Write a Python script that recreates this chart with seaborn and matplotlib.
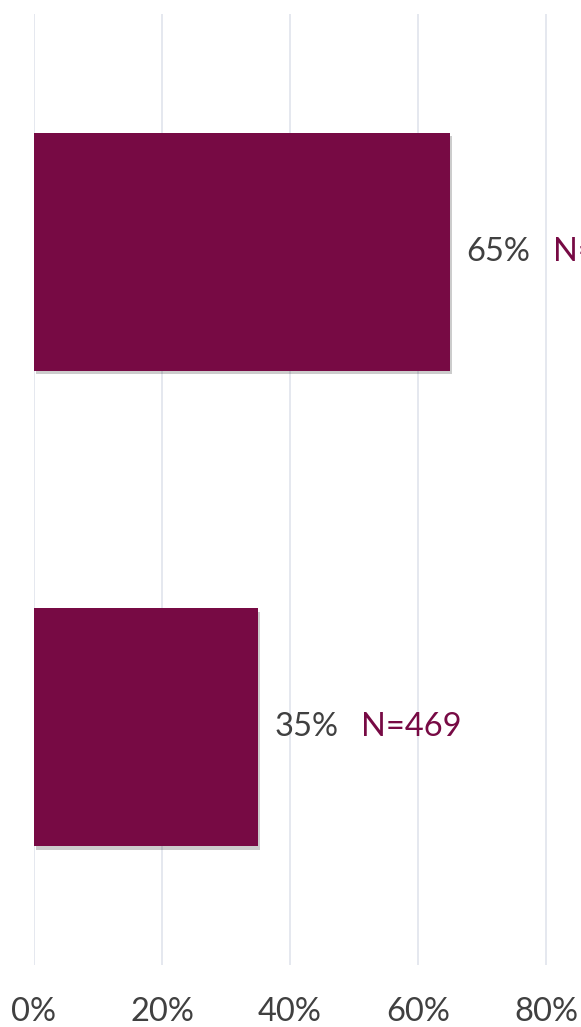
import pandas as pd
import numpy as np
import seaborn as sns
import matplotlib.pyplot as plt
import matplotlib.patheffects as pe

# Data
categories = ["Group A", "Group B"]
shares = [65, 35]
n_labels = ["N=871", "N=469"]
tick_values = [0, 20, 40, 60, 80]
tick_labels = ["0%", "20%", "40%", "60%", "80%"]

bar_color = "#770a44"
text_color = "#404040"

sns.set_style("white")
plt.rcParams["font.family"] = ["Lato", "DejaVu Sans"]

df = pd.DataFrame({"category": categories, "share": shares})

fig = plt.figure(figsize=(5.81, 10.27), dpi=100)
W, H = 581, 1027
ax = fig.add_axes([34 / W, (H - 965) / H, (W - 34) / W, (965 - 14) / H])

sns.barplot(data=df, x="share", y="category", orient="h", color=bar_color,
            width=0.5, saturation=1, linewidth=0, ax=ax)
for patch in ax.patches:
    patch.set_path_effects([pe.SimplePatchShadow(offset=(1.5, -2.5), alpha=0.2,
                                                 shadow_rgbFace="#000000"),
                            pe.Normal()])

ax.set_xlim(0, (W - 34) / 6.4)
ax.set_ylim(1.5, -0.5)
ax.set_xticks(tick_values)
ax.set_xticklabels(tick_labels)
ax.xaxis.grid(True, color="#e3e6ee", linewidth=1.3)
ax.set_axisbelow(True)
ax.set_yticks([])
ax.set_xlabel("")
ax.set_ylabel("")
for s in ax.spines.values():
    s.set_visible(False)
ax.tick_params(axis="x", length=0, pad=23, labelsize=23.5, labelcolor=text_color)

for i, (v, n) in enumerate(zip(shares, n_labels)):
    ax.annotate(f"{v}%", (v, i), xytext=(12, 0), textcoords="offset points",
                va="center", ha="left", fontsize=23.5, color=text_color,
                annotation_clip=False)
    ax.annotate(n, (v, i), xytext=(74, 0), textcoords="offset points",
                va="center", ha="left", fontsize=23.5, color=bar_color,
                annotation_clip=False)

fig.savefig("out.png", dpi=100)
